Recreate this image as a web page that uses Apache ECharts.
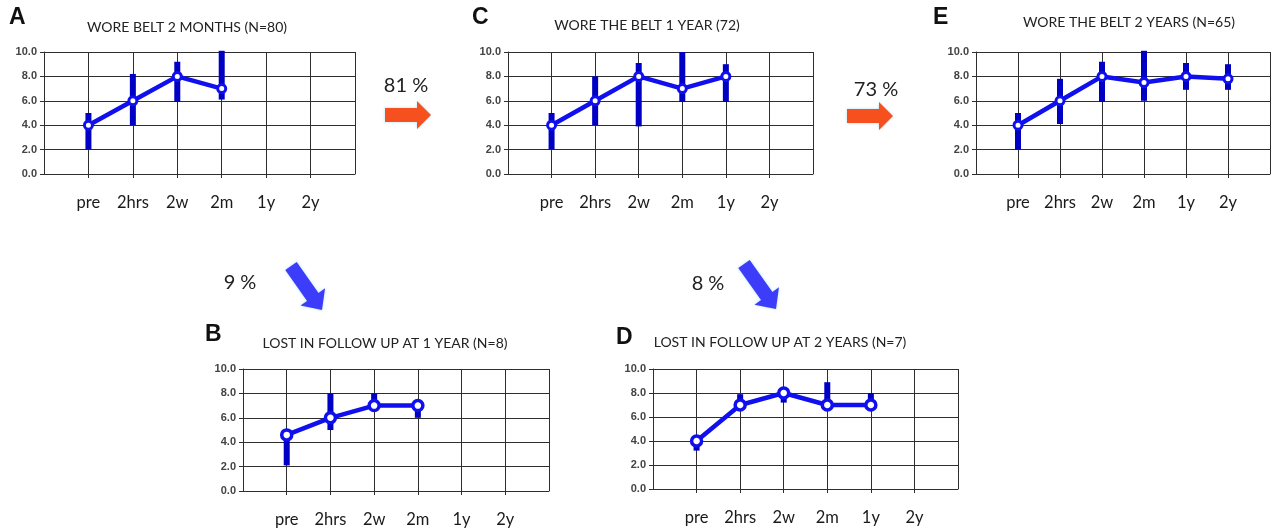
<!DOCTYPE html>
<html>
<head>
<meta charset="utf-8">
<script src="https://cdn.jsdelivr.net/npm/echarts@6/dist/echarts.min.js"></script>
<style>
  html, body { margin: 0; padding: 0; background: #fff; }
  #chart { width: 1271px; height: 528px; }
</style>
</head>
<body>
<div id="chart"></div>
<script>
// Follow-up time points shown on every panel
const times = ['pre', '2hrs', '2w', '2m', '1y', '2y'];
const yTicks = [0, 2, 4, 6, 8, 10];

// A: wore belt 2 months
const meanA = [4.0, 6.0, 8.0, 7.0];
const lowA  = [2.0, 4.0, 5.9, 6.1];
const highA = [5.0, 8.2, 9.2, 10.1];

// C: wore the belt 1 year
const meanC = [4.0, 6.0, 8.0, 7.0, 8.0];
const lowC  = [2.0, 4.0, 3.9, 5.9, 5.9];
const highC = [5.0, 8.0, 9.1, 10.0, 9.0];

// E: wore the belt 2 years
const meanE = [4.0, 6.0, 8.0, 7.5, 8.0, 7.8];
const lowE  = [2.0, 4.1, 5.9, 6.0, 6.9, 6.9];
const highE = [5.0, 7.8, 9.2, 10.1, 9.1, 9.0];

// B: lost in follow up at 1 year
const meanB = [4.6, 6.0, 7.0, 7.0];
const lowB  = [2.1, 5.0, 6.8, 6.0];
const highB = [4.9, 8.0, 8.0, 7.0];

// D: lost in follow up at 2 years
const meanD = [4.0, 7.0, 8.0, 7.0, 7.0];
const lowD  = [3.2, 7.0, 7.2, 7.0, 7.0];
const highD = [4.3, 7.9, 8.1, 8.9, 8.0];

// Transition percentages between groups
const pctAC = '81 %';
const pctCE = '73 %';
const pctAB = '9 %';
const pctCD = '8 %';

const panels = [
  { letter: 'A', title: 'WORE BELT 2 MONTHS (N=80)', mean: meanA, low: lowA, high: highA,
    grid: { left: 44, top: 52, width: 311, height: 122 }, letterPos: [9, 18], titlePos: [187, 27], big: false },
  { letter: 'C', title: 'WORE THE BELT 1 YEAR (72)', mean: meanC, low: lowC, high: highC,
    grid: { left: 508, top: 52, width: 305, height: 122 }, letterPos: [472, 18], titlePos: [647, 25], big: false },
  { letter: 'E', title: 'WORE THE BELT 2 YEARS (N=65)', mean: meanE, low: lowE, high: highE,
    grid: { left: 976, top: 52, width: 294, height: 122 }, letterPos: [933, 18], titlePos: [1129, 22], big: false },
  { letter: 'B', title: 'LOST IN FOLLOW UP AT 1 YEAR (N=8)', mean: meanB, low: lowB, high: highB,
    grid: { left: 243, top: 369, width: 306, height: 124 }, letterPos: [205, 335], titlePos: [385, 343], big: true },
  { letter: 'D', title: 'LOST IN FOLLOW UP AT 2 YEARS (N=7)', mean: meanD, low: lowD, high: highD,
    grid: { left: 653, top: 369, width: 305, height: 120 }, letterPos: [616, 338], titlePos: [780, 342], big: true }
];

const LINE_BLUE = '#1010ee';
const BAR_BLUE = '#0000c4';
const GRID_COL = '#2e2e2e';

const grids = [], xAxes = [], yAxes = [], series = [], graphics = [];

panels.forEach((p, k) => {
  grids.push(Object.assign({ containLabel: false }, p.grid));
  xAxes.push({
    type: 'value', gridIndex: k, min: 0, max: times.length + 1, interval: 1,
    axisLine: { show: true, lineStyle: { color: GRID_COL, width: 1 } },
    axisTick: { show: true, length: 4, lineStyle: { color: GRID_COL } },
    splitLine: { show: true, lineStyle: { color: GRID_COL, width: 1 } },
    axisLabel: {
      margin: 20, fontSize: 16.5, color: '#1a1a1a', fontFamily: 'Lato',
      showMinLabel: false, showMaxLabel: false,
      formatter: v => (v >= 1 && v <= times.length) ? times[v - 1] : ''
    }
  });
  yAxes.push({
    type: 'value', gridIndex: k, min: yTicks[0], max: yTicks[yTicks.length - 1], interval: 2,
    axisLine: { show: true, lineStyle: { color: GRID_COL, width: 1 } },
    axisTick: { show: true, length: 4, lineStyle: { color: GRID_COL } },
    splitLine: { show: true, lineStyle: { color: GRID_COL, width: 1 } },
    axisLabel: {
      margin: 7, fontSize: 11, fontWeight: 'bold', color: '#444', fontFamily: 'Liberation Sans',
      formatter: v => v.toFixed(1)
    }
  });
  // error bars (range at each time point)
  series.push({
    type: 'custom', xAxisIndex: k, yAxisIndex: k, z: 2,
    data: p.low.map((l, i) => [i + 1, l, p.high[i]]),
    encode: { x: 0, y: [1, 2] },
    renderItem: (params, api) => {
      const x = api.value(0);
      const a = api.coord([x, api.value(1)]);
      const b = api.coord([x, api.value(2)]);
      return {
        type: 'line',
        shape: { x1: a[0], y1: a[1], x2: b[0], y2: b[1] },
        style: { stroke: BAR_BLUE, lineWidth: 6 }
      };
    }
  });
  // mean pain score line
  series.push({
    type: 'line', xAxisIndex: k, yAxisIndex: k, z: 3,
    data: p.mean.map((v, i) => [i + 1, v]),
    symbol: 'circle',
    symbolSize: p.big ? 10 : 8,
    lineStyle: { color: LINE_BLUE, width: 4.5 },
    itemStyle: { color: '#ffffff', borderColor: LINE_BLUE, borderWidth: p.big ? 3.5 : 3 },
    animation: false
  });
  graphics.push({
    type: 'text', x: p.letterPos[0], y: p.letterPos[1],
    style: { text: p.letter, font: 'bold 23px "Liberation Sans"', fill: '#111', textVerticalAlign: 'middle' }
  });
  graphics.push({
    type: 'text', x: p.titlePos[0], y: p.titlePos[1],
    style: { text: p.title, font: '14px Lato', fill: '#222', textAlign: 'center', textVerticalAlign: 'middle' }
  });
});

// percentage labels
[[pctAC, 406, 86], [pctCE, 876, 90], [pctAB, 240, 283], [pctCD, 708, 284]].forEach(t => {
  graphics.push({
    type: 'text', x: t[1], y: t[2],
    style: { text: t[0], font: '20px Lato', fill: '#222', textAlign: 'center', textVerticalAlign: 'middle' }
  });
});

// block arrow from tail to tip
function arrowPoints(x0, y0, x1, y1, shaftW, headW, headL) {
  const dx = x1 - x0, dy = y1 - y0;
  const len = Math.sqrt(dx * dx + dy * dy);
  const ux = dx / len, uy = dy / len, nx = -uy, ny = ux;
  const bx = x1 - ux * headL, by = y1 - uy * headL;
  const s = shaftW / 2, h = headW / 2;
  return [
    [x0 + nx * s, y0 + ny * s], [bx + nx * s, by + ny * s], [bx + nx * h, by + ny * h],
    [x1, y1],
    [bx - nx * h, by - ny * h], [bx - nx * s, by - ny * s], [x0 - nx * s, y0 - ny * s]
  ];
}

const arrowShadow = { shadowColor: 'rgba(140,210,235,0.7)', shadowBlur: 3 };
graphics.push({ type: 'polygon', shape: { points: arrowPoints(385, 115, 431, 115, 14, 28, 14) },
  style: Object.assign({ fill: '#f5501d' }, arrowShadow) });
graphics.push({ type: 'polygon', shape: { points: arrowPoints(847, 116, 893, 116, 14, 28, 14) },
  style: Object.assign({ fill: '#f5501d' }, arrowShadow) });
graphics.push({ type: 'polygon', shape: { points: arrowPoints(291, 266, 322, 310, 14, 30, 16) },
  style: Object.assign({ fill: '#3c3cfa' }, arrowShadow) });
graphics.push({ type: 'polygon', shape: { points: arrowPoints(744, 264, 776, 309, 14, 30, 16) },
  style: Object.assign({ fill: '#3c3cfa' }, arrowShadow) });

const chart = echarts.init(document.getElementById('chart'), null, { renderer: 'canvas' });
chart.setOption({
  animation: false,
  backgroundColor: '#ffffff',
  grid: grids,
  xAxis: xAxes,
  yAxis: yAxes,
  series: series,
  graphic: graphics
});
</script>
</body>
</html>
